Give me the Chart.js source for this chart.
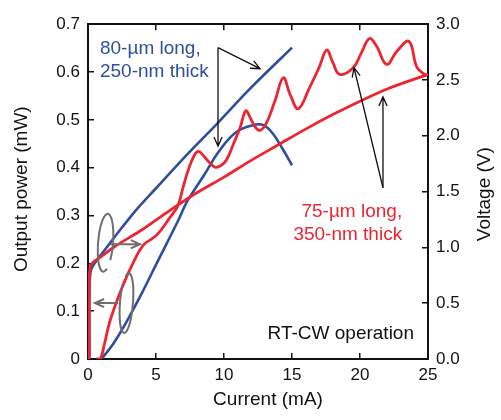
<!DOCTYPE html>
<html>
<head>
<meta charset="utf-8">
<script src="https://cdn.jsdelivr.net/npm/chart.js@4.4.1/dist/chart.umd.min.js"></script>
<style>
  body { margin: 0; background: #fff; }
  #wrap { width: 501px; height: 420px; }
</style>
</head>
<body>
<div id="wrap"><canvas id="chart"></canvas></div>
<script>
// 80-um long, 250-nm thick (blue)
const blueLiCurrent = [1.0, 1.86, 2.6, 4.0, 5.05, 6.64, 7.3, 8.48, 9.7, 10.93, 12.15, 12.9, 13.6, 14.36, 15.0];
const blueLiPower   = [0, 0.032, 0.066, 0.14, 0.2, 0.29, 0.33, 0.382, 0.437, 0.475, 0.489, 0.489, 0.471, 0.437, 0.405];
const blueViCurrent = [0.1, 0.1, 0.2, 0.5, 1.0, 2.0, 3.5, 5.0, 7.35, 9.5, 11.9, 15.0];
const blueViVoltage = [0, 0.6, 0.79, 0.86, 0.94, 1.1, 1.33, 1.53, 1.84, 2.11, 2.42, 2.79];

// 75-um long, 350-nm thick (red)
const redLiCurrent = [0.6, 0.9, 1.2, 1.62, 2.6, 3.3, 4.07, 5.05, 6.03, 6.6, 7.0, 7.38, 7.8, 8.11, 8.5, 8.73, 9.34, 9.8, 10.2, 10.7, 11.2, 11.6, 11.9, 12.3, 12.65, 13.1, 13.75, 14.36, 14.85, 15.46, 16.3, 17.0, 17.55, 18.0, 18.5, 19.5, 20.1, 20.7, 21.2, 21.96, 22.7, 23.6, 24.2, 24.9];
const redLiPower   = [0, 0, 0.03, 0.08, 0.156, 0.2, 0.238, 0.259, 0.296, 0.32, 0.36, 0.396, 0.425, 0.434, 0.425, 0.417, 0.401, 0.405, 0.417, 0.45, 0.485, 0.519, 0.506, 0.485, 0.478, 0.492, 0.54, 0.588, 0.554, 0.523, 0.568, 0.61, 0.646, 0.62, 0.595, 0.609, 0.64, 0.67, 0.655, 0.616, 0.643, 0.664, 0.609, 0.592];
const redViCurrent = [0.1, 0.1, 0.2, 1, 2, 4, 6, 8, 10, 12, 14, 16, 18, 20, 22, 25];
const redViVoltage = [0, 0.64, 0.84, 0.92, 1.01, 1.16, 1.33, 1.49, 1.63, 1.78, 1.92, 2.06, 2.19, 2.31, 2.42, 2.55];

const currentTicks = [0, 5, 10, 15, 20, 25];
const powerTicks = [0, 0.1, 0.2, 0.3, 0.4, 0.5, 0.6, 0.7];
const voltageTicks = [0, 0.5, 1.0, 1.5, 2.0, 2.5, 3.0];

const BLUE = '#2d4f9e';
const RED = '#ee2530';
const FONT = '"Liberation Sans", Arial, sans-serif';

function points(xs, ys) {
  return xs.map((x, i) => ({ x, y: ys[i] }));
}

function useTicks(values) {
  return scale => { scale.ticks = values.map(value => ({ value })); };
}

function arrow(ctx, x1, y1, x2, y2) {
  const head = 10;
  const a = Math.atan2(y2 - y1, x2 - x1);
  ctx.beginPath();
  ctx.moveTo(x1, y1);
  ctx.lineTo(x2, y2);
  ctx.moveTo(x2 - head * Math.cos(a - 0.42), y2 - head * Math.sin(a - 0.42));
  ctx.lineTo(x2, y2);
  ctx.lineTo(x2 - head * Math.cos(a + 0.42), y2 - head * Math.sin(a + 0.42));
  ctx.stroke();
}

// labels, arrows and axis titles
const notes = {
  id: 'notes',
  afterDatasetsDraw(chart) {
    const { ctx, chartArea } = chart;
    const px = v => chart.scales.x.getPixelForValue(v);
    const py = v => chart.scales.y.getPixelForValue(v);
    ctx.save();
    ctx.font = '19px ' + FONT;
    ctx.textBaseline = 'middle';

    ctx.fillStyle = BLUE;
    ctx.textAlign = 'left';
    ctx.fillText('80-µm long,', px(0.88), py(0.649));
    ctx.fillText('250-nm thick', px(0.88), py(0.601));

    ctx.fillStyle = RED;
    ctx.textAlign = 'right';
    ctx.fillText('75-µm long,', px(23.1), py(0.307));
    ctx.fillText('350-nm thick', px(23.1), py(0.259));

    ctx.fillStyle = '#111';
    ctx.fillText('RT-CW operation', px(23.97), py(0.0525));

    ctx.strokeStyle = '#111';
    ctx.lineWidth = 1.3;
    arrow(ctx, px(9.56), py(0.651), px(12.65), py(0.607));
    arrow(ctx, px(9.56), py(0.651), px(9.56), py(0.445));
    arrow(ctx, px(21.69), py(0.358), px(19.56), py(0.609));
    arrow(ctx, px(21.69), py(0.358), px(21.69), py(0.548));

    // gray loops pointing to the axes
    ctx.strokeStyle = '#6e6e6e';
    ctx.lineWidth = 2;
    ctx.beginPath();
    ctx.ellipse(px(1.29), py(0.243), 7.5, 29, 0.08, 0.35 * Math.PI, 2.2 * Math.PI);
    ctx.stroke();
    arrow(ctx, px(1.62), py(0.24), px(3.82), py(0.24));
    ctx.beginPath();
    ctx.ellipse(px(2.83), py(0.117), 6.5, 30, 0.08, -0.65 * Math.PI, 1.2 * Math.PI);
    ctx.stroke();
    arrow(ctx, px(2.23), py(0.117), px(0.51), py(0.117));

    // axis titles
    ctx.fillStyle = '#111';
    ctx.textAlign = 'center';
    ctx.fillText('Current (mA)', chartArea.left + 180, chartArea.bottom + 41);
    ctx.translate(22, chartArea.top + 165);
    ctx.rotate(-Math.PI / 2);
    ctx.fillText('Output power (mW)', 0, 0);
    ctx.setTransform(1, 0, 0, 1, 0, 0);
    ctx.translate(485, chartArea.top + 170);
    ctx.rotate(-Math.PI / 2);
    ctx.fillText('Voltage (V)', 0, 0);
    ctx.restore();
  }
};

const axisGrid = { drawOnChartArea: false, tickLength: -6, color: '#111', lineWidth: 1.5 };
const axisBorder = { color: '#111', width: 2 };
const tickFont = { family: FONT, size: 17 };

new Chart(document.getElementById('chart'), {
  type: 'line',
  data: {
    datasets: [
      { data: points(redViCurrent, redViVoltage), yAxisID: 'y2', borderColor: RED, borderWidth: 2.8, tension: 0.3 },
      { data: points(redLiCurrent, redLiPower), yAxisID: 'y', borderColor: RED, borderWidth: 2.8, tension: 0.4 },
      { data: points(blueViCurrent, blueViVoltage), yAxisID: 'y2', borderColor: BLUE, borderWidth: 2.6, tension: 0.3 },
      { data: points(blueLiCurrent, blueLiPower), yAxisID: 'y', borderColor: BLUE, borderWidth: 2.6, tension: 0.4 }
    ]
  },
  options: {
    responsive: true,
    maintainAspectRatio: false,
    animation: false,
    layout: { padding: 0 },
    elements: { point: { radius: 0 } },
    plugins: { legend: { display: false }, tooltip: { enabled: false } },
    scales: {
      x: {
        type: 'linear', position: 'bottom', min: 0, max: 25,
        afterBuildTicks: useTicks(currentTicks),
        afterFit: s => { s.height = 61; },
        grid: axisGrid, border: axisBorder,
        ticks: { font: tickFont, color: '#111', padding: 12, maxRotation: 0 }
      },
      xTop: {
        type: 'linear', position: 'top', min: 0, max: 25,
        afterBuildTicks: useTicks(currentTicks),
        afterFit: s => { s.height = 19; },
        grid: axisGrid, border: axisBorder,
        ticks: { display: false }
      },
      y: {
        type: 'linear', position: 'left', min: 0, max: 0.7,
        afterBuildTicks: useTicks(powerTicks),
        afterFit: s => { s.width = 88; },
        grid: axisGrid, border: axisBorder,
        ticks: { font: tickFont, color: '#111', padding: 14, callback: v => v === 0 ? '0' : v.toFixed(1) }
      },
      y2: {
        type: 'linear', position: 'right', min: 0, max: 3.0,
        afterBuildTicks: useTicks(voltageTicks),
        afterFit: s => { s.width = 73; },
        grid: axisGrid, border: axisBorder,
        ticks: { font: tickFont, color: '#111', padding: 14, callback: v => v.toFixed(1) }
      }
    }
  },
  plugins: [notes]
});
</script>
</body>
</html>
